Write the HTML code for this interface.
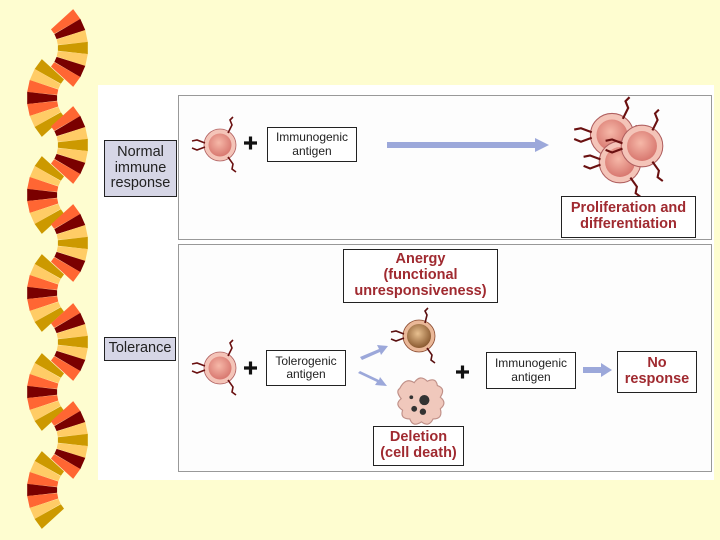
<!DOCTYPE html>
<html><head><meta charset="utf-8"><style>
html,body{margin:0;padding:0}
body{width:720px;height:540px;background:#fefdd0;position:relative;overflow:hidden;font-family:"Liberation Sans",sans-serif}
.b{position:absolute;border:1.5px solid #222;background:#fff;box-sizing:border-box;display:flex;align-items:center;justify-content:center;text-align:center;line-height:1.1}
.r{color:#a02a30;font-weight:bold;font-size:14.5px}
.g{background:#d6d6e6;font-size:14.5px;color:#222}
.s{font-size:12px;color:#222}
</style></head><body>
<svg width="720" height="540" style="position:absolute;left:0;top:0">
<defs>
<path id="w" d="M27.9,-2.7 L57.8,-6.1 L57.8,6.1 L27.9,2.7Z"/>
<g id="R">
<use href="#w" transform="rotate(-36)" fill="#ff6633"/>
<use href="#w" transform="rotate(-24)" fill="#7a0000"/>
<use href="#w" transform="rotate(-12)" fill="#ffcc66"/>
<use href="#w" transform="rotate(0)" fill="#cc9900"/>
<use href="#w" transform="rotate(12)" fill="#ffcc66"/>
<use href="#w" transform="rotate(24)" fill="#7a0000"/>
<use href="#w" transform="rotate(36)" fill="#ff6633"/>
</g>
<g id="L">
<use href="#w" transform="rotate(216)" fill="#cc9900"/>
<use href="#w" transform="rotate(204)" fill="#ffcc66"/>
<use href="#w" transform="rotate(192)" fill="#ff6633"/>
<use href="#w" transform="rotate(180)" fill="#7a0000"/>
<use href="#w" transform="rotate(168)" fill="#ff6633"/>
<use href="#w" transform="rotate(156)" fill="#ffcc66"/>
<use href="#w" transform="rotate(144)" fill="#cc9900"/>
</g>
<radialGradient id="cg" cx="45%" cy="40%" r="60%"><stop offset="0" stop-color="#f6b8a8"/><stop offset="1" stop-color="#d87870"/></radialGradient>
<radialGradient id="bg" cx="45%" cy="40%" r="60%"><stop offset="0" stop-color="#e8c090"/><stop offset="1" stop-color="#8a5a30"/></radialGradient>
<g id="cell">
<circle r="16" fill="#f4c4b8" stroke="#b06060" stroke-width="0.8"/>
<circle r="11.5" fill="url(#cg)"/>
<g stroke="#6a1010" stroke-width="1.6" fill="none">
<path d="M-15,-2 l-8,-3 l-5,1 M-15,2 l-8,3 l-5,-2"/>
<path d="M8,-12 l4,-8 l-2,-5 l3,-3"/>
<path d="M8,12 l5,7 l-1,5 l4,3"/>
</g>
</g>
</defs>
<use href="#R" x="30" y="48"/><use href="#L" x="85" y="98"/>
<use href="#R" x="30" y="145"/><use href="#L" x="85" y="195"/>
<use href="#R" x="30" y="243"/><use href="#L" x="85" y="293"/>
<use href="#R" x="30" y="342"/><use href="#L" x="85" y="392"/>
<use href="#R" x="30" y="440"/><use href="#L" x="85" y="490"/>
<rect x="98" y="85" width="616" height="395" fill="#fff"/>
<rect x="178.5" y="95.5" width="533" height="144" fill="#fdfdfd" stroke="#999"/>
<rect x="178.5" y="244.5" width="533" height="227" fill="#fdfdfd" stroke="#999"/>
<use href="#cell" x="220" y="145"/>
<use href="#cell" x="220" y="368"/>
<g stroke="#111" stroke-width="3.2"><path d="M244,143h13M250.5,136.5v13"/><path d="M244,368h13M250.5,361.5v13"/><path d="M456,372h13M462.5,365.5v13"/></g>
<g fill="#9ca8da">
<path d="M387,142h148v-4l14,7l-14,7v-4h-148z"/>
<path d="M583,367h18v-4l11,7l-11,7v-4h-18z"/>
<path d="M360,357l19,-8l-2,-4l11,1l-7,9l-1,-3l-18,8z"/>
<path d="M358,373l19,9l-2,3l12,1l-7,-9l-1,3l-19,-9z"/>
</g>
<g transform="translate(612,135)"><use href="#cell" transform="scale(1.35)"/></g>
<g transform="translate(620,162)"><use href="#cell" transform="scale(1.3)"/></g>
<g transform="translate(642,146)"><use href="#cell" transform="scale(1.3)"/></g>
<g transform="translate(419,336)">
<circle r="16" fill="#eab898" stroke="#8a4a30" stroke-width="0.8"/><circle r="12" fill="url(#bg)"/>
<g stroke="#5a1010" stroke-width="1.6" fill="none"><path d="M-15,-2 l-8,-3 l-5,1 M-15,2 l-8,3 l-5,-2"/><path d="M6,-13 l2,-8 l-2,-4 l3,-3"/><path d="M8,12 l5,7 l-1,5 l4,3"/></g>
</g>
<g transform="translate(420,403) scale(1.45)">
<path d="M-14,-10 q4,-8 10,-4 q4,-6 9,-1 q6,-3 7,3 q6,2 2,8 q5,4 0,8 q2,7 -5,7 q-3,6 -8,2 q-6,4 -8,-2 q-7,0 -5,-6 q-6,-4 -1,-8 q-4,-5 -1,-7z" fill="#f0c8bc" stroke="#c09088" stroke-width="0.8"/>
<circle cx="3" cy="-2" r="3.5" fill="#333"/><circle cx="-4" cy="4" r="2" fill="#333"/><circle cx="2" cy="6" r="2.2" fill="#333"/><circle cx="-6" cy="-4" r="1.3" fill="#333"/>
</g>
</svg>
<div class="b g" style="left:104px;top:140px;width:73px;height:57px">Normal<br>immune<br>response</div>
<div class="b g" style="left:104px;top:337px;width:72px;height:24px">Tolerance</div>
<div class="b s" style="left:267px;top:127px;width:90px;height:35px">Immunogenic<br>antigen</div>
<div class="b s" style="left:266px;top:350px;width:80px;height:36px">Tolerogenic<br>antigen</div>
<div class="b s" style="left:486px;top:352px;width:90px;height:37px">Immunogenic<br>antigen</div>
<div class="b r" style="left:561px;top:196px;width:135px;height:42px">Proliferation and<br>differentiation</div>
<div class="b r" style="left:343px;top:249px;width:155px;height:54px">Anergy<br>(functional<br>unresponsiveness)</div>
<div class="b r" style="left:617px;top:351px;width:80px;height:42px">No<br>response</div>
<div class="b r" style="left:373px;top:426px;width:91px;height:40px">Deletion<br>(cell death)</div>
</body></html>
